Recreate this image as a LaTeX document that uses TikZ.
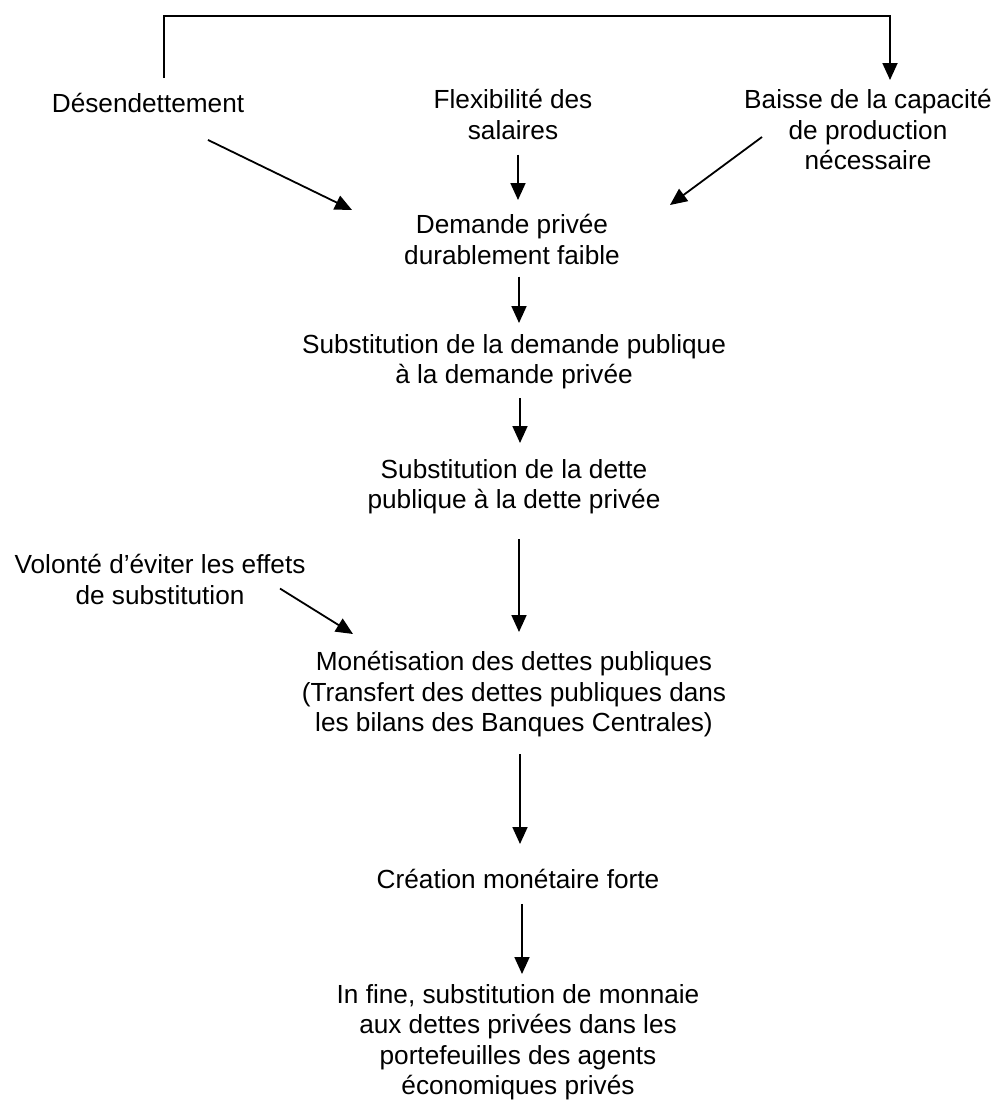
\documentclass[tikz,border=0pt]{standalone}
\usepackage{fontspec}
\setmainfont{Liberation Sans}
\usetikzlibrary{arrows.meta,calc}
\begin{document}
\begin{tikzpicture}[x=1pt,y=-1pt,
  txt/.style={inner sep=0pt, align=center, anchor=north, font=\fontsize{26.2}{30.6}\selectfont},
  conn/.style={line width=1.8pt},
  arr/.style={conn, -{Triangle[length=17pt,width=15pt]}}]
\useasboundingbox (0,0) rectangle (997,1101);
\node[txt] (des) at (148,93) {Désendettement};
\node[txt] (flex) at (513,89) {Flexibilité des\\salaires};
\node[txt] (baisse) at (868,89) {Baisse de la capacité\\de production\\nécessaire};
\node[txt] (dem) at (512,214) {Demande privée\\durablement faible};
\node[txt] (sub1) at (514,334) {Substitution de la demande publique\\à la demande privée};
\node[txt] (sub2) at (514,459) {Substitution de la dette\\publique à la dette privée};
\node[txt] (vol) at (160,554) {Volonté d’éviter les effets\\de substitution};
\node[txt] (mon) at (514,651) {Monétisation des dettes publiques\\(Transfert des dettes publiques dans\\les bilans des Banques Centrales)};
\node[txt] (cre) at (518,869) {Création monétaire forte};
\node[txt] (fin) at (518,984) {In fine, substitution de monnaie\\aux dettes privées dans les\\portefeuilles des agents\\économiques privés};

\draw[arr] ($(des.north)+(16,-15)$) |- ($(baisse.north)+(22,-73)$) -- ($(baisse.north)+(22,-9)$);
\draw[arr] ($(des.south)+(60,27)$) -- ($(dem.north west)+(-52,-4)$);
\draw[arr] ($(flex.south)+(5,15)$) -- ($(dem.north)+(6,-14)$);
\draw[arr] ($(baisse.north)+(-106,48)$) -- ($(dem.north east)+(50,-9)$);
\draw[arr] ($(dem.south)+(7,12)$) -- ($(sub1.north)+(5,-11)$);
\draw[arr] ($(sub1.south)+(6,9)$) -- ($(sub2.north)+(6,-16)$);
\draw[arr] ($(sub2.south)+(5,25)$) -- ($(mon.north)+(5,-19)$);
\draw[arr] ($(vol.south)+(120,-16)$) -- ($(mon.north)+(-161,-17)$);
\draw[arr] ($(mon.south)+(6,17)$) -- ($(cre.north)+(2,-25)$);
\draw[arr] ($(cre.south)+(4,15)$) -- ($(fin.north)+(4,-10)$);
\end{tikzpicture}
\end{document}
